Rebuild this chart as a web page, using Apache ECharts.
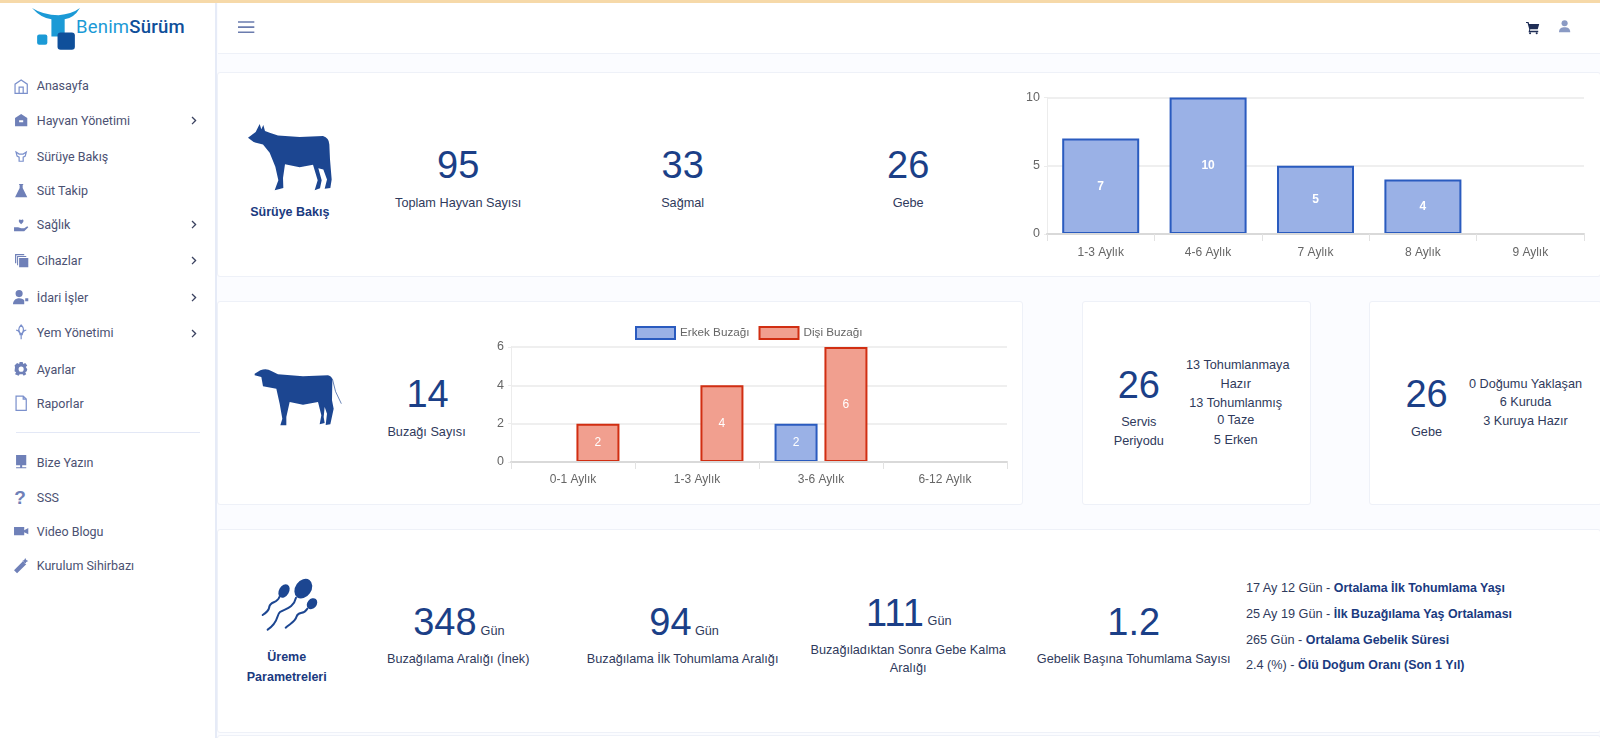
<!DOCTYPE html>
<html>
<head>
<meta charset="utf-8">
<title>BenimSürüm</title>
<script src="https://cdn.jsdelivr.net/npm/echarts@6/dist/echarts.min.js"></script>
<style>
html,body{margin:0;padding:0;width:1600px;height:738px;overflow:hidden;background:#fbfcff;font-family:"Liberation Sans",Arial,sans-serif;}
.box{position:absolute;background:#fff;border:1px solid #eef1f8;box-sizing:border-box;border-radius:3px;}
.t{position:absolute;white-space:nowrap;line-height:1;transform:translateY(-50%);}
.c{transform:translate(-50%,-50%);}
.big{font-size:38px;color:#1b3f87;}
.lbl{font-size:12.7px;color:#2f3a5c;}
.head{font-size:12.5px;font-weight:bold;color:#1a3a80;}
.nav{font-family:Roboto,sans-serif;font-size:12.5px;color:#4b5172;}
.chart{position:absolute;}
svg{position:absolute;overflow:visible;}
</style>
</head>
<body>
<div id="page"></div>
<div id="chart-herd" class="chart" style="left:1000px;top:80px;width:600px;height:190px"></div>
<div id="chart-calf" class="chart" style="left:470px;top:310px;width:550px;height:190px"></div>
<script>
// herd chart
var herdCategories = ['1-3 Aylık', '4-6 Aylık', '7 Aylık', '8 Aylık', '9 Aylık'];
var herdValues = [7, 10, 5, 4, 0];

// calf chart
var calfCategories = ['0-1 Aylık', '1-3 Aylık', '3-6 Aylık', '6-12 Aylık'];
var maleCalves = [0, 0, 2, 0];
var femaleCalves = [2, 4, 6, 0];

var BLUE_FILL = '#9ab1e6', BLUE_LINE = '#2a5bbf';
var RED_FILL = '#f19f8f', RED_LINE = '#d12e12';
var FONT = '"Liberation Sans",Arial,sans-serif';

// page layout was measured on a 0.98 scaled copy
var K = 1 / 0.98;
var page = document.getElementById('page');

function add(html) {
	page.insertAdjacentHTML('beforeend', html);
}
function box(x, y, w, h) {
	add('<div class="box" style="left:' + x * K + 'px;top:' + y * K + 'px;width:' + w * K + 'px;height:' + h * K + 'px"></div>');
}
function txt(cls, x, y, s) {
	add('<div class="t ' + cls + '" style="left:' + x * K + 'px;top:' + y * K + 'px">' + s + '</div>');
}
function svg(x, y, w, h, vb, body) {
	add('<svg style="left:' + x * K + 'px;top:' + y * K + 'px" width="' + w * K + '" height="' + h * K + '" viewBox="' + vb + '" preserveAspectRatio="none">' + body + '</svg>');
}

// frame
add('<div style="position:absolute;left:0;top:0;width:1600px;height:3px;background:#f6d9a9"></div>');
add('<div style="position:absolute;left:0;top:3px;width:217px;height:735px;background:#fff;border-right:2px solid #e6ebf7;box-sizing:border-box"></div>');
add('<div style="position:absolute;left:218px;top:3px;width:1382px;height:50px;background:#fff;border-bottom:1px solid #eef1f8"></div>');

box(213, 71, 1356, 200);
box(213, 295, 790, 200);
box(1060, 295, 225, 200);
box(1342, 295, 228, 200);
box(213, 518, 1356, 200);
box(213, 720, 1356, 30);

// logo
svg(30, 6, 50, 40, '0 0 50 40',
	'<path d="M1 2 Q10 12 20 13 L20 30 L33 30 L33 13 Q42 12 48 2 Q40 8 27 9 Q12 9 1 2Z" fill="#1b9ad6"/>' +
	'<rect x="6" y="28" width="10" height="10" rx="2" fill="#1b9ad6"/>' +
	'<rect x="26" y="26" width="17" height="17" rx="3" fill="#0f4f9a"/>');
add('<div class="t" style="left:76px;top:27px;font-family:Roboto,sans-serif;font-size:18.5px;letter-spacing:.2px;color:#1b9ad6">Benim<span style="color:#0f4f9a;font-weight:500">Sürüm</span></div>');

// sidebar
var navItems = [
	['Anasayfa', 84, 0, 'M2 15V6l6-4 6 4v9zM6 15V9h4v6', 'line'],
	['Hayvan Yönetimi', 118, 1, 'M2 14V6l6-4 6 4v8zM6 8h4v2H6z', 'fill'],
	['Sürüye Bakış', 153, 0, 'M3 4l3 2h4l3-2-1 4-2 1v4H6V9L4 8z', 'line'],
	['Süt Takip', 186, 0, 'M6 2h4v1h-.5v3l4.5 9H2l4.5-9V3H6z', 'fill'],
	['Sağlık', 220, 1, 'M8 8C4 5 6 2 8 4c2-2 4 1 0 4zM1 11h4l3 1h3l3-2 1 1-4 4H1z', 'fill'],
	['Cihazlar', 255, 1, 'M6 6h9v9H6zM2 11V2h9v1.2H3.2V11zM4 13V4h9v1H5v8z', 'fill'],
	['İdari İşler', 291, 1, 'M6 1a3.5 3.5 0 1 1 0 7 3.5 3.5 0 0 1 0-7zM0 15c0-4 3-6 6-6s4 1 5 2v4zM12 9h3v3h-3z', 'fill'],
	['Yem Yönetimi', 326, 1, 'M8 1c3 3 3 6 0 9-3-3-3-6 0-9zM8 10v5M3 6c2 0 4 2 4 5M13 6c-2 0-4 2-4 5', 'line'],
	['Ayarlar', 362, 0, 'M6.5 1h3l.5 2 2-1 2 2.5-1.5 1.5L14 8l-.5 2-1.5 1 1 2-2.5 1.500-1-1.500h-3l-1 1.500L2 13l1-2-1.500-1L2 6 1.500 4.500 4 2l2 1zM8 5.500a2.500 2.500 0 1 0 0 5 2.500 2.500 0 0 0 0-5z', 'fill'],
	['Raporlar', 395, 0, 'M3 1h7l3 3v11H3zM10 1v3h3', 'line'],
	['Bize Yazın', 453, 0, 'M3 1h10v10H9v2h4v1H3v-1h4v-2H3z', 'fill'],
	['SSS', 487, 0, '', 'q'],
	['Video Blogu', 521, 0, 'M1 4h10v8H1zM11 7l4-2v6l-4-2z', 'fill'],
	['Kurulum Sihirbazı', 554, 0, 'M1 13L10 4l3 3-9 9zM12 1l1 2 2 1-2 1-1 2-1-2-2-1 2-1z', 'fill']
];
navItems.forEach(function (n) {
	if (n[4] == 'q') {
		txt('', 14, n[1], '<b style="font-size:19px;color:#6f80b8">?</b>');
	} else {
		var style = n[4] == 'fill' ? 'fill="#6f80b8" fill-rule="evenodd"' : 'fill="none" stroke="#7b90cc" stroke-width="1.2"';
		svg(13, n[1] - 8, 16, 16, '0 0 16 16', '<path d="' + n[3] + '" ' + style + '/>');
	}
	txt('nav', 36, n[1] + 0.7, n[0]);
	if (n[2]) {
		svg(187, n[1] - 4, 6, 9, '0 0 6 9', '<path d="M1 1l3.500 3.500L1 8" fill="none" stroke="#3a4260" stroke-width="1.300"/>');
	}
});
add('<div style="position:absolute;left:16px;top:432px;width:184px;height:1px;background:#e3e8f6"></div>');

// header icons
svg(233, 21, 16, 12, '0 0 16 12', '<path d="M0 1h16M0 6h16M0 11h16" stroke="#6b7cae" stroke-width="1.6"/>');
svg(1495, 21, 13, 13, '0 0 13 13', '<path d="M0 1h2.500l.6 2H13l-1.500 5H4.200L3.800 9.500H12V11H2.500l.7-3L1.500 2H0z" fill="#1f2d55"/><circle cx="4" cy="12" r="1" fill="#1f2d55"/><circle cx="10.500" cy="12" r="1" fill="#1f2d55"/>');
svg(1528, 20, 11, 13, '0 0 11 13', '<circle cx="5.500" cy="3.200" r="3" fill="#8a9ac4"/><path d="M0 12c0-4 2.500-5 5.500-5s5.500 1 5.500 5z" fill="#8a9ac4"/>');

// cows
var COW = 'M85 145 L108 128 L120 104 L125 120 L131 107 L136 125 L150 130 L175 138 L240 143 L310 140 Q328 145 329 165 L331 210 L336 270 L332 295 L315 297 L322 270 L311 240 L296 236 L306 272 L301 296 L285 302 L294 272 L280 226 L240 233 L196 224 L190 265 L191 295 L165 302 L176 272 L167 232 L150 190 L130 165 L102 158 Z';
var CALF = 'M45 70 L62 60 Q80 52 95 62 L115 72 L190 78 L265 75 Q278 78 278 90 L277 150 L282 175 L272 222 L258 224 L262 190 L255 170 L252 200 L255 218 L240 222 L245 195 L235 155 L190 163 L150 155 L140 200 L140 225 L122 225 L128 205 L120 160 L110 115 L70 108 L65 80 L45 75 Z';
svg(243.4, 122, 82, 65, '85 104 251 198', '<path d="' + COW + '" fill="#1c4691"/>');
svg(248.3, 359.3, 88.2, 58.8, '40 50 270 180', '<path d="' + CALF + '" fill="#1c4691"/><path d="M278 85 Q284 125 305 160" fill="none" stroke="#1c4691" stroke-width="2"/>');

// sperm icon
svg(254.8, 565, 58.8, 53.9, '120 110 180 165',
	'<g fill="#1c4691"><ellipse cx="192" cy="152" rx="15" ry="22" transform="rotate(30 192 152)"/>' +
	'<ellipse cx="250" cy="145" rx="24" ry="32" transform="rotate(35 250 145)"/>' +
	'<ellipse cx="276" cy="190" rx="14" ry="18" transform="rotate(40 276 190)"/></g>' +
	'<g fill="none" stroke="#1c4691" stroke-width="6" stroke-linecap="round">' +
	'<path d="M178 170 C172 190 150 182 148 200 C146 212 138 218 128 224"/>' +
	'<path d="M228 172 C220 205 195 205 180 215 C168 225 178 245 143 268"/>' +
	'<path d="M262 205 C250 225 235 212 230 228 C226 245 210 250 197 262"/></g>');

// figures
var bigFigures = [['95', 449, 162], ['33', 669, 162], ['26', 890, 162], ['14', 419, 386], ['26', 1116, 377], ['26', 1398, 386],
	['348', 436, 610], ['94', 657, 610], ['111', 877, 601], ['1.2', 1111, 610]];
bigFigures.forEach(function (b) { txt('big c', b[1], b[2], b[0]); });

var labels = [['Toplam Hayvan Sayısı', 449, 199], ['Sağmal', 669, 199], ['Gebe', 890, 199], ['Buzağı Sayısı', 418, 423],
	['Servis', 1116, 414], ['Periyodu', 1116, 432], ['13 Tohumlanmaya', 1213, 358], ['Hazır', 1211, 376], ['13 Tohumlanmış', 1211, 395],
	['0 Taze', 1211, 412], ['5 Erken', 1211, 431], ['Gebe', 1398, 423], ['0 Doğumu Yaklaşan', 1495, 376], ['6 Kuruda', 1495, 394],
	['3 Kuruya Hazır', 1495, 413], ['Buzağılama Aralığı (İnek)', 449, 646], ['Buzağılama İlk Tohumlama Aralığı', 669, 646],
	['Buzağıladıktan Sonra Gebe Kalma', 890, 637], ['Aralığı', 890, 655], ['Gebelik Başına Tohumlama Sayısı', 1111, 646]];
labels.forEach(function (l) { txt('lbl c', l[1], l[2], l[0]); });

txt('head c', 284, 208, 'Sürüye Bakış');
txt('head c', 281, 644, 'Üreme');
txt('head c', 281, 663, 'Parametreleri');
txt('lbl', 471, 618, 'Gün');
txt('lbl', 681, 618, 'Gün');
txt('lbl', 909, 609, 'Gün');

var stats = [['17 Ay 12 Gün', 'Ortalama İlk Tohumlama Yaşı', 576], ['25 Ay 19 Gün', 'İlk Buzağılama Yaş Ortalaması', 602],
	['265 Gün', 'Ortalama Gebelik Süresi', 627], ['2.4 (%)', 'Ölü Doğum Oranı (Son 1 Yıl)', 652]];
stats.forEach(function (s) {
	txt('lbl', 1221, s[2], s[0] + ' - <b style="color:#1a3a80;font-size:12.4px">' + s[1] + '</b>');
});

// shared axis bits
function catAxis(data, gap) {
	return {
		type: 'category', data: data, z: 3,
		axisLine: { lineStyle: { color: '#d9d9d9', width: 2 } },
		axisTick: { show: true, length: 7, lineStyle: { color: '#e2e2e2' } },
		axisLabel: { color: '#666', fontSize: 12, fontFamily: FONT, margin: gap }
	};
}
function valAxis(max, step) {
	return {
		type: 'value', min: 0, max: max, interval: step,
		axisLine: { show: true, lineStyle: { color: '#ececec' } },
		axisTick: { show: true, length: 3, lineStyle: { color: '#ececec' } },
		axisLabel: { color: '#666', fontSize: 12.5, fontFamily: FONT, margin: 7 },
		splitLine: { lineStyle: { color: '#efefef', width: 2 } }
	};
}
function barLabel(weight) {
	return { show: true, position: 'inside', color: '#fff', fontSize: 12, fontWeight: weight, fontFamily: FONT };
}

var herdChart = echarts.init(document.getElementById('chart-herd'));
herdChart.setOption({
	animation: false,
	grid: { left: 47, right: 16, top: 17.5, bottom: 36 },
	xAxis: catAxis(herdCategories, 13),
	yAxis: valAxis(10, 5),
	series: [{
		type: 'bar', data: herdValues, barWidth: 77,
		itemStyle: { color: BLUE_FILL, borderColor: BLUE_LINE, borderWidth: 2 },
		label: barLabel('bold')
	}]
});

var calfChart = echarts.init(document.getElementById('chart-calf'));
calfChart.setOption({
	animation: false,
	grid: { left: 41, right: 13, top: 37, height: 115 },
	legend: {
		left: 160, top: 11, icon: 'rect', itemWidth: 39, itemHeight: 12, itemGap: 9,
		textStyle: { color: '#666', fontSize: 11.7, fontFamily: FONT },
		data: ['Erkek Buzağı', 'Dişi Buzağı']
	},
	xAxis: catAxis(calfCategories, 12),
	yAxis: valAxis(6, 2),
	series: [{
		name: 'Erkek Buzağı', type: 'bar', data: maleCalves, barWidth: 43, barGap: '16%',
		itemStyle: { color: BLUE_FILL, borderColor: BLUE_LINE, borderWidth: 2 },
		label: barLabel('normal')
	}, {
		name: 'Dişi Buzağı', type: 'bar', data: femaleCalves, barWidth: 43,
		itemStyle: { color: RED_FILL, borderColor: RED_LINE, borderWidth: 2 },
		label: barLabel('normal')
	}]
});
</script>
</body>
</html>
